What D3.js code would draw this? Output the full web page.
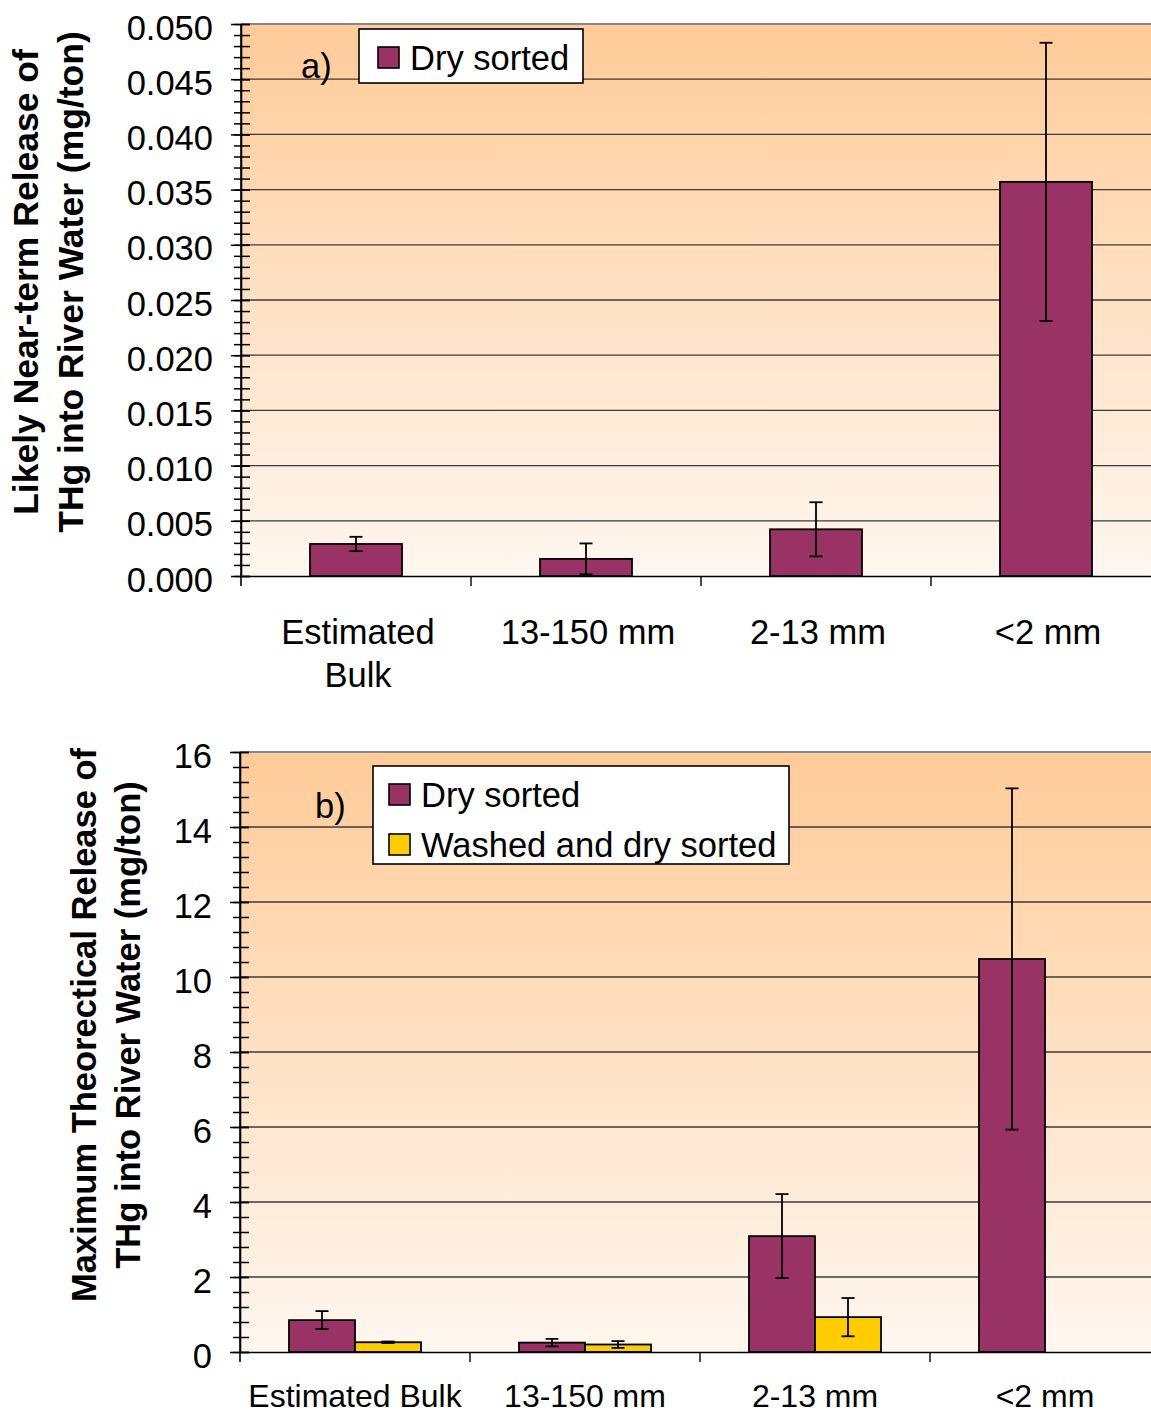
<!DOCTYPE html>
<html><head><meta charset="utf-8">
<script src="https://cdn.jsdelivr.net/npm/d3@7"></script>
<style>
html,body{margin:0;padding:0;background:#fff;}
svg{display:block;font-family:"Liberation Sans",Arial,sans-serif;}
</style></head>
<body>
<svg id="chart" width="1151" height="1414"></svg>
<script>
// ---------- data ----------
const categories = ["Estimated Bulk", "13-150 mm", "2-13 mm", "<2 mm"];
const labelsA = [["Estimated", "Bulk"], ["13-150 mm"], ["2-13 mm"], ["<2 mm"]];
const labelsB = [["Estimated Bulk"], ["13-150 mm"], ["2-13 mm"], ["<2 mm"]];

const dryA = [0.0029, 0.00155, 0.00423, 0.0357];
const dryErrA = [0.00065, 0.0014, 0.00245, 0.0126];
const yTicksA = [0, 0.005, 0.01, 0.015, 0.02, 0.025, 0.03, 0.035, 0.04, 0.045, 0.05];

const dryB = [0.85, 0.25, 3.09, 10.48];
const dryErrB = [0.24, 0.1, 1.12, 4.55];
const washedB = [0.26, 0.2, 0.93, null];
const washedErrB = [0.02, 0.09, 0.51, null];
const yTicksB = [0, 2, 4, 6, 8, 10, 12, 14, 16];

const seriesA = ["Dry sorted"];
const seriesB = ["Dry sorted", "Washed and dry sorted"];
const colors = {"Dry sorted": "#993366", "Washed and dry sorted": "#FFCC00"};

// ---------- drawing ----------
const FS = 34.5;
const svg = d3.select("#chart");
const defs = svg.append("defs");
const grad = defs.append("linearGradient").attr("id", "bg").attr("x1", 0).attr("y1", 0).attr("x2", 0).attr("y2", 1);
grad.append("stop").attr("offset", "0%").attr("stop-color", "#FFCB98");
grad.append("stop").attr("offset", "100%").attr("stop-color", "#FFF7F0");

function drawPanel(cfg) {
  const g = svg.append("g");
  const x = d3.scaleBand().domain(categories).range([cfg.left, cfg.right]).paddingInner(0).paddingOuter(0);
  const y = d3.scaleLinear().domain([0, cfg.ymax]).range([cfg.bottom, cfg.top]);
  const xs = d3.scaleBand().domain(cfg.series).range([0, x.bandwidth()]).paddingInner(0).paddingOuter(cfg.outerPad);

  // background
  g.append("rect").attr("x", cfg.left).attr("y", cfg.top)
    .attr("width", cfg.right - cfg.left).attr("height", cfg.bottom - cfg.top)
    .attr("fill", "url(#bg)");

  // gridlines
  g.selectAll(".grid").data(cfg.ticks.filter(t => t > 0)).enter().append("line")
    .attr("x1", cfg.left).attr("x2", cfg.right)
    .attr("y1", d => y(d)).attr("y2", d => y(d))
    .attr("stroke", d => d === cfg.ymax ? "#888" : "#3a3a3a").attr("stroke-width", d => d === cfg.ymax ? 2 : 1.3);

  // bars
  cfg.series.forEach((s, si) => {
    const vals = cfg.values[si], errs = cfg.errors[si];
    const data = categories.map((c, i) => ({c, v: vals[i], e: errs[i]})).filter(d => d.v != null);
    g.selectAll(null).data(data).enter().append("rect")
      .attr("x", d => x(d.c) + xs(s))
      .attr("y", d => y(d.v))
      .attr("width", xs.bandwidth())
      .attr("height", d => y(0) - y(d.v))
      .attr("fill", colors[s]).attr("stroke", "#000").attr("stroke-width", 1.8);
    const eb = g.selectAll(null).data(data).enter().append("g")
      .attr("transform", d => `translate(${x(d.c) + xs(s) + xs.bandwidth() / 2},0)`)
      .attr("stroke", "#000").attr("stroke-width", 1.8);
    eb.append("line").attr("x1", 0).attr("x2", 0).attr("y1", d => y(d.v + d.e)).attr("y2", d => y(Math.max(0, d.v - d.e)));
    eb.append("line").attr("x1", -6.5).attr("x2", 6.5).attr("y1", d => y(d.v + d.e)).attr("y2", d => y(d.v + d.e));
    eb.append("line").attr("x1", -6.5).attr("x2", 6.5).attr("y1", d => y(Math.max(0, d.v - d.e))).attr("y2", d => y(Math.max(0, d.v - d.e)));
  });

  // y axis minor ticks
  const minorVals = d3.range(0, cfg.ymax + cfg.minor / 2, cfg.minor);
  const minorAx = g.append("g").attr("transform", `translate(${cfg.left},0)`)
    .call(d3.axisLeft(y).tickValues(minorVals).tickFormat("").tickSizeOuter(0).tickSizeInner(7));
  minorAx.select(".domain").remove();
  minorAx.selectAll(".tick line").attr("x1", -7).attr("x2", 9).attr("stroke", "#000").attr("stroke-width", 1.5);

  // y axis major
  const ax = g.append("g").attr("transform", `translate(${cfg.left},0)`)
    .call(d3.axisLeft(y).tickValues(cfg.ticks).tickFormat(cfg.fmt).tickSizeOuter(0).tickSizeInner(10).tickPadding(18));
  ax.select(".domain").attr("stroke", "#000").attr("stroke-width", 1.6);
  ax.selectAll(".tick line").attr("x1", -10).attr("x2", 9).attr("stroke", "#000").attr("stroke-width", 1.5);
  ax.selectAll(".tick text").attr("font-size", FS).attr("fill", "#000")
    .attr("font-family", "'Liberation Sans',Arial,sans-serif").attr("dy", "0.44em");
  // extend y axis line down to category tick length
  g.append("line").attr("x1", cfg.left).attr("x2", cfg.left).attr("y1", cfg.top).attr("y2", cfg.bottom + 10)
    .attr("stroke", "#000").attr("stroke-width", 1.6);

  // x axis
  const xa = g.append("g").attr("transform", `translate(0,${cfg.bottom})`)
    .call(d3.axisBottom(x).tickSize(0).tickFormat(""));
  xa.select(".domain").attr("stroke", "#000").attr("stroke-width", 1.6);
  g.selectAll(".cattick").data(categories.slice(1)).enter().append("line")
    .attr("x1", d => x(d)).attr("x2", d => x(d)).attr("y1", cfg.bottom).attr("y2", cfg.bottom + 10)
    .attr("stroke", "#000").attr("stroke-width", 1.4);
  categories.forEach((c, i) => {
    const t = g.append("text").attr("text-anchor", "middle").attr("font-size", cfg.labelFS).attr("fill", "#000")
      .attr("x", x(c) + x.bandwidth() / 2 + cfg.labelShift).attr("y", cfg.labelY);
    cfg.labels[i].forEach((l, j) => t.append("tspan").attr("x", x(c) + x.bandwidth() / 2 + cfg.labelShift).attr("dy", j === 0 ? 0 : 43).text(l));
  });

  // y title
  cfg.title.forEach((line, j) => {
    g.append("text").attr("transform", `translate(${cfg.titleX[j]},${cfg.titleY}) rotate(-90)`)
      .attr("text-anchor", "middle").attr("dy", "0.35em").attr("font-size", cfg.titleFS).attr("font-weight", "bold").attr("fill", "#000")
      .text(line);
  });

  // panel letter
  g.append("text").attr("x", cfg.letterX).attr("y", cfg.letterY).attr("font-size", FS).attr("fill", "#000").text(cfg.letter);

  // legend
  const lg = g.append("g");
  lg.append("rect").attr("x", cfg.legend.x).attr("y", cfg.legend.y).attr("width", cfg.legend.w).attr("height", cfg.legend.h)
    .attr("fill", "#fff").attr("stroke", "#000").attr("stroke-width", 1.6);
  cfg.series.forEach((s, i) => {
    const yy = cfg.legend.y + cfg.legend.rowY + i * 50;
    lg.append("rect").attr("x", cfg.legend.x + cfg.legend.swX).attr("y", yy - 11).attr("width", 21).attr("height", 21)
      .attr("fill", colors[s]).attr("stroke", "#000").attr("stroke-width", 1.6);
    lg.append("text").attr("x", cfg.legend.x + cfg.legend.swX + 32).attr("y", yy).attr("dy", "0.36em")
      .attr("font-size", FS).attr("fill", "#000").text(s);
  });
}

drawPanel({
  left: 241, right: 1161, top: 24, bottom: 576, ymax: 0.05, minor: 0.001,
  ticks: yTicksA, fmt: d3.format(".3f"),
  series: seriesA, values: [dryA], errors: [dryErrA], outerPad: 0.75,
  labels: labelsA, labelY: 644, labelShift: 2, labelFS: 34.5,
  title: ["Likely Near-term Release of", "THg into River Water (mg/ton)"], titleX: [26, 71], titleY: 282, titleFS: 35.5,
  letter: "a)", letterX: 301, letterY: 78,
  legend: {x: 359, y: 29, w: 224, h: 54, swX: 19, rowY: 29}
});

drawPanel({
  left: 240, right: 1160, top: 752, bottom: 1352, ymax: 16, minor: 0.4,
  ticks: yTicksB, fmt: d3.format("d"),
  series: seriesB, values: [dryB, washedB], errors: [dryErrB, washedErrB], outerPad: 0.742,
  labels: labelsB, labelY: 1407, labelShift: 0, labelFS: 32,
  title: ["Maximum Theorectical Release of", "THg into River Water (mg/ton)"], titleX: [84, 128], titleY: 1025, titleFS: 34.5,
  letter: "b)", letterX: 315, letterY: 818,
  legend: {x: 373, y: 766, w: 416, h: 98, swX: 16, rowY: 29}
});
</script>
</body></html>
